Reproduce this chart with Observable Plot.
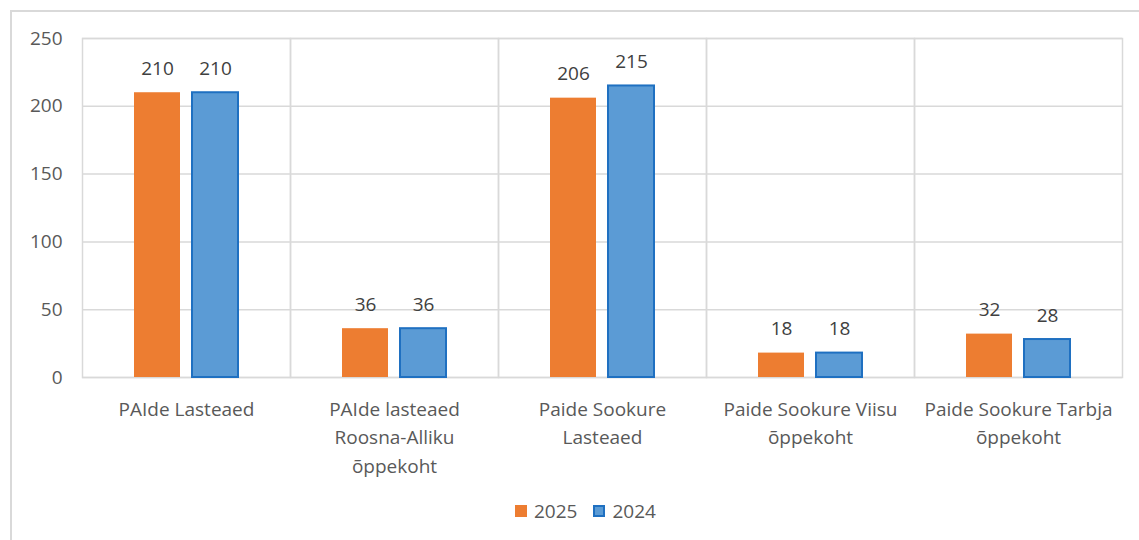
<!DOCTYPE html>
<html><head><meta charset="utf-8">
<script src="https://cdn.jsdelivr.net/npm/d3@7"></script>
<script src="https://cdn.jsdelivr.net/npm/@observablehq/plot@0.6"></script>
<style>
body{margin:0;background:#fff;font-family:"Open Sans",sans-serif;}
#wrap{position:relative;width:1139px;height:540px;overflow:hidden;background:#fff;}
#border{position:absolute;left:10px;top:10px;width:1200px;height:600px;border:2px solid #d9d9d9;box-sizing:border-box;}
#chart{position:absolute;left:0;top:0;}
#legend{position:absolute;top:498px;left:515px;display:flex;align-items:center;font-size:19px;color:#595959;font-family:"Open Sans",sans-serif;}
.sw{width:12px;height:12px;margin-right:7px;box-sizing:border-box;}
.item{display:flex;align-items:center;margin-right:16px;}
</style>
</head><body>
<div id="wrap"><div id="border"></div><div id="chart"></div><div id="legend"></div></div>
<script>
const categories = ["PAIde Lasteaed", "PAIde lasteaed Roosna-Alliku õppekoht", "Paide Sookure Lasteaed", "Paide Sookure Viisu õppekoht", "Paide Sookure Tarbja õppekoht"];
const categoryLabels = ["PAIde Lasteaed", "PAIde lasteaed\nRoosna-Alliku\nõppekoht", "Paide Sookure\nLasteaed", "Paide Sookure Viisu\nõppekoht", "Paide Sookure Tarbja\nõppekoht"];
const series = ["2025", "2024"];
const values2025 = [210, 36, 206, 18, 32];
const values2024 = [210, 36, 215, 18, 28];
const yTicks = [0, 50, 100, 150, 200, 250];
const fills = ["#ED7D31", "#5B9BD5"];
const strokes = ["none", "#1F70C1"];

const rows = [];
categories.forEach((c, i) => {
  rows.push({category: c, series: "2025", value: values2025[i]});
  rows.push({category: c, series: "2024", value: values2024[i]});
});
const labelOf = Object.fromEntries(categories.map((c, i) => [c, categoryLabels[i]]));

const plot = Plot.plot({
  width: 1139,
  height: 540,
  marginLeft: 81,
  marginRight: 16,
  marginTop: 38,
  marginBottom: 163,
  style: {fontFamily: "Open Sans, sans-serif", fontSize: "19px", background: "transparent"},
  fx: {domain: categories, padding: 0, axis: null},
  x: {domain: series, paddingInner: 0.214, paddingOuter: 0.885, axis: null},
  y: {domain: [0, 250], ticks: yTicks, axis: null},
  marks: [
    Plot.gridY(yTicks, {stroke: "#d9d9d9", strokeOpacity: 1, strokeWidth: 1.5}),
    Plot.frame({stroke: "#d9d9d9", strokeWidth: 1.5}),
    Plot.axisY(yTicks, {tickSize: 0, tickPadding: 20, fill: "#595959", fontSize: 19, label: null, facetAnchor: "left"}),
    ...series.map((s, k) => Plot.barY(rows.filter(d => d.series === s), {
      fx: "category", x: "series", y: "value",
      fill: fills[k], stroke: strokes[k], strokeWidth: 2, inset: 0
    })),
    Plot.text(rows, {fx: "category", x: "series", y: "value", text: d => String(d.value),
      dy: -24, fill: "#404040", fontSize: 19}),
    Plot.text(categories, {fx: d => d, text: d => labelOf[d], frameAnchor: "bottom",
      lineAnchor: "top", dy: 18, lineHeight: 1.5, fill: "#595959", fontSize: 19})
  ]
});
document.getElementById("chart").appendChild(plot);

const legend = document.getElementById("legend");
series.forEach((s, k) => {
  const item = document.createElement("div");
  item.className = "item";
  const sw = document.createElement("div");
  sw.className = "sw";
  sw.style.background = fills[k];
  if (strokes[k] !== "none") sw.style.border = "2px solid " + strokes[k];
  const t = document.createElement("span");
  t.textContent = s;
  item.appendChild(sw); item.appendChild(t);
  legend.appendChild(item);
});
</script>
</body></html>
